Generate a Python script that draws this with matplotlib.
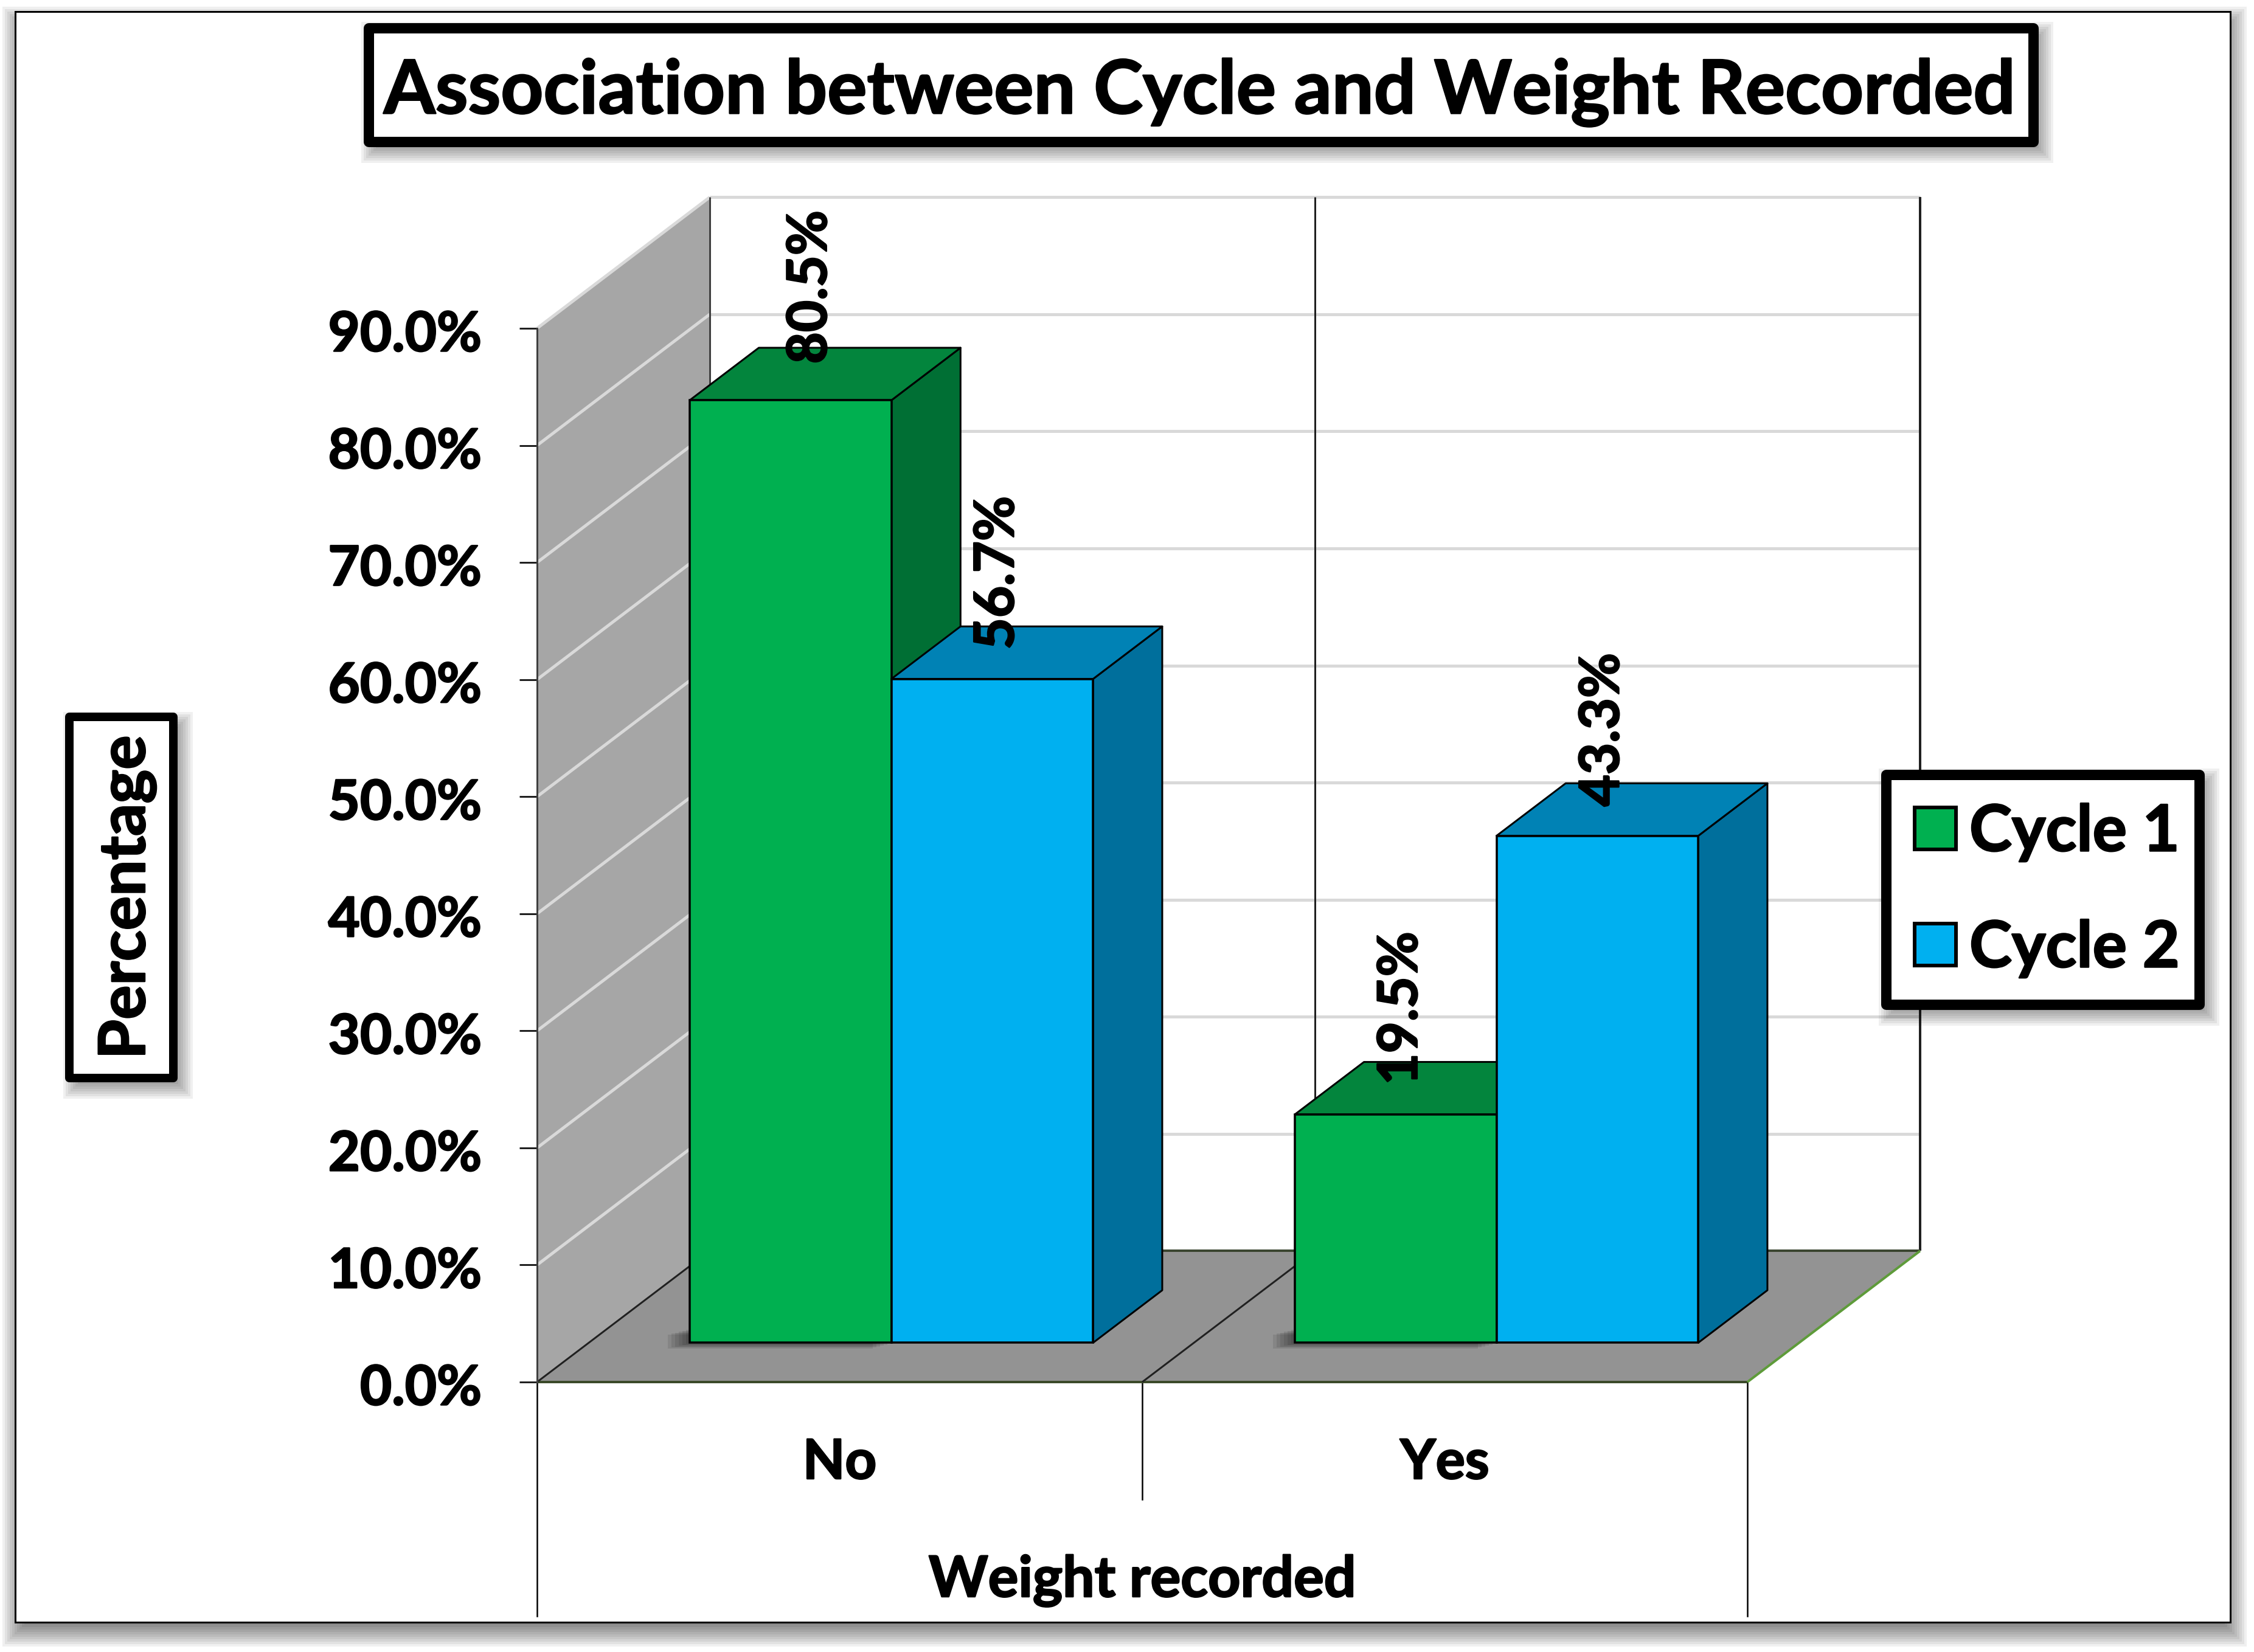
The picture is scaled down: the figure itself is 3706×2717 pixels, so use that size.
import matplotlib
matplotlib.use('Agg')
import matplotlib.pyplot as plt
import matplotlib.patheffects as pe
from matplotlib.patches import Rectangle, Patch, Polygon
from matplotlib.text import Text
from matplotlib.transforms import ScaledTranslation

plt.rcParams['font.family'] = ['Lato', 'DejaVu Sans']
plt.rcParams['font.weight'] = 'bold'
plt.rcParams['axes.labelweight'] = 'bold'

# data
categories = ['No', 'Yes']
series_names = ['Cycle 1', 'Cycle 2']
cycle1 = [80.5, 19.5]
cycle2 = [56.7, 43.3]
y_ticks = [0, 10, 20, 30, 40, 50, 60, 70, 80, 90]

# colours: front, top, side
green = ['#00B050', '#03853D', '#006F34']
blue = ['#00B0F0', '#0082B5', '#006F9C']

W, H = 3706, 2717
px = 100 / 72  # pixels per point

fig = plt.figure(figsize=(W / 100, H / 100), dpi=100, facecolor='white')


def pixel_axes(z):
    a = fig.add_axes([0, 0, 1, 1], zorder=z)
    a.set_xlim(0, W)
    a.set_ylim(H, 0)
    a.axis('off')
    return a


def soft_shadow(a, x0, y0, x1, y1, dx, dy, blur, z=1):
    # stack of see through rectangles, gets darker towards the box
    for i in range(blur, -blur, -4):
        a.add_patch(Rectangle((x0 + dx - i, y0 + dy - i), x1 - x0 + 2 * i, y1 - y0 + 2 * i,
                              fc='black', ec='none', alpha=0.06, zorder=z))


def text_box(a, x0, y0, x1, y1, lw_px=17):
    soft_shadow(a, x0, y0, x1, y1, 11, 13, 14)
    a.add_patch(Rectangle((x0 + lw_px / 2, y0 + lw_px / 2), x1 - x0 - lw_px, y1 - y0 - lw_px,
                          fc='white', ec='black', lw=lw_px / px, joinstyle='round', zorder=2))


back = pixel_axes(0)
soft_shadow(back, 25, 19, 3667, 2668, 3, 16, 24)
back.add_patch(Rectangle((25, 19), 3642, 2649, fc='white', ec='black', lw=3 / px, zorder=2))

# main axes is the front plane of the 3d box
x_left, x_right, y_zero, y_top = 883, 2873, 2273, 540
ax = fig.add_axes([x_left / W, 1 - y_zero / H, (x_right - x_left) / W, (y_zero - y_top) / H], zorder=1)
ax.patch.set_visible(False)
ax.set_xlim(0, 2)
ax.set_ylim(0, 90)
for s in ['top', 'right', 'bottom']:
    ax.spines[s].set_visible(False)
ax.spines['left'].set_color('#404040')
ax.spines['left'].set_linewidth(3 / px)

DX = 0.2854  # x shift for full depth
DY = 11.2    # y shift for full depth
ymax = y_ticks[-1]


def proj(x, y, d):
    return x + d * DX, y + d * DY


def face(points, color, z, edge='black', lw=3):
    ax.add_patch(Polygon([proj(*p) for p in points], closed=True, fc=color, ec=edge,
                         lw=lw / px, zorder=z, clip_on=False, joinstyle='round'))


def line3d(p, q, color, lw, z):
    a, b = proj(*p), proj(*q)
    ax.plot([a[0], b[0]], [a[1], b[1]], color=color, lw=lw / px, zorder=z, clip_on=False,
            solid_capstyle='butt')


# walls and floor
face([(0, 0, 0), (0, 0, 1), (0, ymax, 1), (0, ymax, 0)], '#A6A6A6', 1, edge='none')
face([(0, 0, 0), (2, 0, 0), (2, 0, 1), (0, 0, 1)], '#939393', 2, edge='none')
for v in y_ticks[1:]:
    line3d((0, v, 0), (0, v, 1), '#D9D9D9', 5, 1.5)
    line3d((0, v, 1), (2, v, 1), '#D9D9D9', 5, 1.5)
line3d((0, 0, 1), (0, ymax, 1), '#404040', 3, 1.6)
line3d((1, 0, 1), (1, ymax, 1), '#202020', 3, 1.6)
line3d((2, 0, 1), (2, ymax, 1), '#202020', 4, 1.6)
line3d((0, 0, 1), (2, 0, 1), '#3B4530', 4, 2.1)
line3d((0, 0, 0), (2, 0, 0), '#3B4A2A', 4, 2.1)
line3d((2, 0, 0), (2, 0, 1), '#5E9B3A', 4, 2.1)
for x in [0, 1]:
    line3d((x, 0, 0), (x, 0, 1), '#202020', 3, 2.2)

# level dividers under the axis
ax.plot([0, 0], [0, -20.0], color='black', lw=2.5 / px, clip_on=False)
ax.plot([1, 1], [0, -10.0], color='black', lw=2.5 / px, clip_on=False)
ax.plot([2, 2], [0, -20.0], color='black', lw=2.5 / px, clip_on=False)

# bars
bar_w = 1 / 3
d0, d1 = 0.3, 0.7
label_nudge = [(0.033, 0.6), (0.009, 0.0), (0.009, 0.0), (0.009, 0.0)]

z = 5
k = 0
for i, cat in enumerate(categories):
    left = i + 0.5 - bar_w
    # soft shadow at the foot of the first bar
    sx, sy = proj(left, 0, d0)
    for e in range(6):
        ax.add_patch(Rectangle((sx - (e + 1) * 0.006, sy - 0.1 - e * 0.08), bar_w + 0.005, 1.2,
                               fc='black', ec='none', alpha=0.09, zorder=2.5, clip_on=False))
    for vals, cols in [(cycle1, green), (cycle2, blue)]:
        v = vals[i]
        xa = left
        xb = left + bar_w
        # side and top faces
        face([(xb, 0, d0), (xb, 0, d1), (xb, v, d1), (xb, v, d0)], cols[2], z)
        face([(xa, v, d0), (xb, v, d0), (xb, v, d1), (xa, v, d1)], cols[1], z)
        fx, fy = proj(xa, 0, d0)
        ax.bar(fx, v, width=bar_w, bottom=fy, align='edge', color=cols[0], edgecolor='black',
               linewidth=3.5 / px, zorder=z + 1, clip_on=False)
        tx, ty = proj(xa + bar_w / 2, v, d0)
        ax.text(tx + label_nudge[k][0], ty + 2.5 + label_nudge[k][1], f'{v:.1f}%', rotation=90,
                ha='center', va='bottom', fontsize=65, zorder=30, clip_on=False)
        k += 1
        left += bar_w
        z += 2

# axis text
ax.set_yticks(y_ticks)
ax.set_yticklabels([f'{v:.1f}%' for v in y_ticks], fontsize=65, va='center_baseline')
ax.tick_params(axis='y', length=29 / px, width=3 / px, pad=62 / px, color='#202020')
for lab in ax.get_yticklabels():
    lab.set_transform(lab.get_transform() + ScaledTranslation(0, -4 / 100, fig.dpi_scale_trans))
ax.set_xticks([0.5, 1.5])
ax.set_xticklabels(categories, fontsize=65)
ax.tick_params(axis='x', length=0, pad=92 / px)
ax.set_xlabel('Weight recorded', fontsize=67, labelpad=109 / px)

# boxes on top of everything
top = pixel_axes(2)
text_box(top, 597, 37, 3351, 241)
top.text(1974, 152, 'Association between Cycle and Weight Recorded', fontsize=88, ha='center',
         va='center', zorder=5)
text_box(top, 107, 1172, 292, 1780, lw_px=14)
top.text(209, 1476, 'Percentage', fontsize=76, rotation=90, ha='center', va='center', zorder=5)

text_box(top, 3092, 1265, 3624, 1660)
handles = [Patch(facecolor=green[0], edgecolor='black', linewidth=6 / px),
           Patch(facecolor=blue[0], edgecolor='black', linewidth=6 / px)]
leg = top.legend(handles, series_names, loc='center', bbox_to_anchor=(3366, 1465),
                 bbox_transform=top.transData, fontsize=76, frameon=False, handlelength=0.64,
                 handleheight=0.64, handletextpad=0.21, labelspacing=0.9, borderpad=0.0)
leg.set_zorder(10)

# Calibri in the original prints heavier than Lato bold
for t in fig.findobj(Text):
    t.set_path_effects([pe.withStroke(linewidth=1.8, foreground='black')])

fig.savefig('out.png', dpi=100)
